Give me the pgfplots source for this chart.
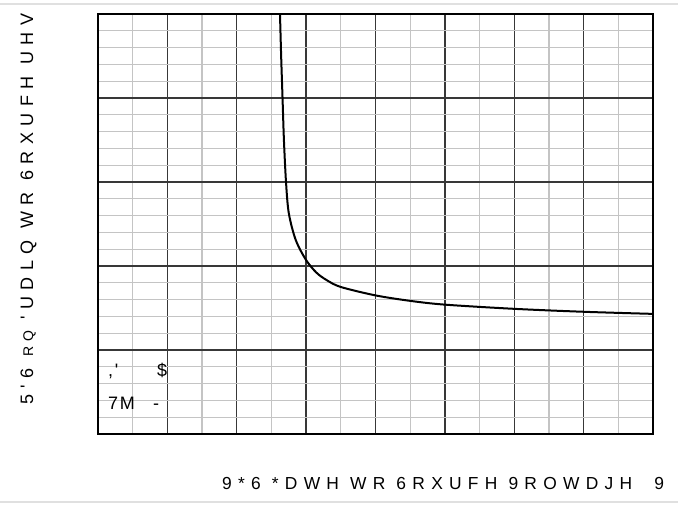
\documentclass[border=0pt]{standalone}
\usepackage{fontspec}
\setmainfont{Liberation Sans}
\newfontfamily\lsp[LetterSpace=36]{Liberation Sans}
\newfontfamily\lspb[LetterSpace=10]{Liberation Sans}
\usepackage{pgfplots}
\pgfplotsset{compat=1.18}
\begin{document}
\begin{tikzpicture}[x=1pt,y=1pt]
\useasboundingbox (0,0) rectangle (678,504);
\draw[black!12, line width=1.5pt] (0,500) -- (678,500);
\draw[black!12, line width=1.5pt] (0,2) -- (678,2);
\begin{axis}[at={(98pt,70pt)}, anchor=south west, scale only axis,
  width=555pt, height=420pt,
  xmin=0, xmax=8, ymin=0, ymax=5,
  xtick={0,...,8}, ytick={0,...,5},
  minor x tick num=1, minor y tick num=4,
  grid=both,
  major grid style={black!78, line width=1.4pt},
  minor grid style={black!23, line width=1.3pt},
  xticklabels={}, yticklabels={},
  major tick length=0pt, minor tick length=0pt,
  axis line style={line width=2pt},
  clip=true]
\addplot[black, line width=2pt, smooth, tension=0.5] coordinates {
(2.62,5.1) (2.64,4.5) (2.66,4.0) (2.68,3.5) (2.71,3.0) (2.75,2.63) (2.85,2.31)
(3.0,2.07) (3.15,1.92) (3.3,1.83) (3.5,1.75) (4,1.65) (4.5,1.585) (5,1.54)
(6,1.49) (7,1.455) (8,1.43)};
\end{axis}
\node[anchor=base west, inner sep=0, font=\lsp\fontsize{17.4}{19}\selectfont] at (222,15) {9*6 *DWH WR 6RXUFH 9ROWDJH \ 9};
\node[anchor=base west, inner sep=0, rotate=90, font=\lsp\fontsize{18}{20}\selectfont] at (33,99) {5'6 {\fontsize{14}{16}\selectfont RQ} 'UDLQ WR 6RXUFH UHV};
\node[anchor=base west, inner sep=0, font=\lspb\fontsize{18}{20}\selectfont] at (108,127) {,'};
\node[anchor=base west, inner sep=0, font=\lspb\fontsize{18}{20}\selectfont] at (157,127) {\$};
\node[anchor=base west, inner sep=0, font=\lspb\fontsize{18}{20}\selectfont] at (108,94) {7M};
\node[anchor=base west, inner sep=0, font=\lspb\fontsize{18}{20}\selectfont] at (153,94) {-};
\end{tikzpicture}
\end{document}
